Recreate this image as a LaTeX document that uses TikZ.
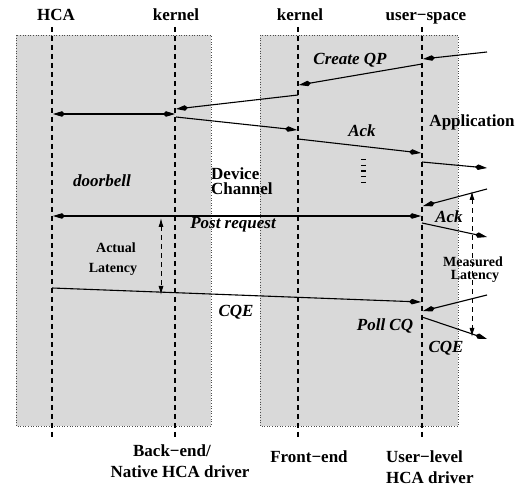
\documentclass[tikz,border=0pt]{standalone}
\usepackage{fontspec}
\setmainfont{Liberation Serif}
\usetikzlibrary{arrows.meta}
\begin{document}
\begin{tikzpicture}[x=1pt,y=-1pt,
  big/.style={font=\fontsize{17}{18}\selectfont\bfseries, inner sep=0pt, anchor=base},
  bigit/.style={font=\fontsize{17}{18}\selectfont\bfseries\itshape, inner sep=0pt, anchor=base},
  small/.style={font=\fontsize{14}{15}\selectfont\bfseries, inner sep=0pt, anchor=base},
  region/.style={fill=black!15, draw=black!70, dotted, line width=0.6pt},
  lifeline/.style={dashed, line width=1.2pt, dash pattern=on 5pt off 4pt},
  msg/.style={line width=1.1pt, -{Kite[length=12pt,width=5.5pt]}},
  dmsg/.style={line width=1.1pt, {Kite[length=12pt,width=5.5pt]}-{Kite[length=12pt,width=5.5pt]}},
  lat/.style={line width=1pt, dash pattern=on 5pt off 4pt, {Latex[length=9pt,width=5pt]}-{Latex[length=9pt,width=5pt]}}]
\useasboundingbox (0,0) rectangle (520,489);
% regions
\path[region] (16,35) rectangle (211,426);
\path[region] (260,35) rectangle (458,426);
% lifelines
\coordinate (hcaT) at (52,27);   \coordinate (hcaB) at (52,438);
\coordinate (klT) at (175,27);   \coordinate (klB) at (175,438);
\coordinate (krT) at (298,27);   \coordinate (krB) at (298,438);
\coordinate (usT) at (422,27);   \coordinate (usB) at (422,438);
\draw[lifeline] (hcaT) -- (hcaB);
\draw[lifeline] (klT) -- (klB);
\draw[lifeline] (krT) -- (krB);
\draw[lifeline] (usT) -- (usB);
% headers
\node[big] (hHCA) at (56,21) {HCA};
\node[big] (hKL) at (176,21) {kernel};
\node[big] (hKR) at (300,21) {kernel};
\node[big] (hUS) at (426,21) {user−space};
% bottom labels
\node[big] (bBE) at (172,456) {Back−end/};
\node[big] (bNat) at (180,477) {Native HCA driver};
\node[big] (bFE) at (309,462) {Front−end};
\node[big, anchor=base west] (bUL) at (386,462) {User−level};
\node[big, anchor=base west] (bHD) at (386,483) {HCA driver};
% message end points
\coordinate (m1a) at (487,52);  \coordinate (m1b) at (423,59);
\coordinate (m2a) at (422,64);  \coordinate (m2b) at (299,85);
\coordinate (m3a) at (298,95);  \coordinate (m3b) at (176,109);
\coordinate (m4a) at (53,114);  \coordinate (m4b) at (175,114);
\coordinate (m5a) at (176,117); \coordinate (m5b) at (297,130);
\coordinate (m6a) at (298,139); \coordinate (m6b) at (421,153);
\coordinate (m7a) at (422,162); \coordinate (m7b) at (487,168);
\coordinate (m8a) at (487,189); \coordinate (m8b) at (423,206);
\coordinate (m9a) at (53,216);  \coordinate (m9b) at (421,216);
\coordinate (m10a) at (422,223); \coordinate (m10b) at (487,237);
\coordinate (m11a) at (52,288); \coordinate (m11b) at (421,302);
\coordinate (m12a) at (487,295); \coordinate (m12b) at (423,311);
\coordinate (m13a) at (422,317); \coordinate (m13b) at (487,339);
\draw[msg] (m1a) -- (m1b);
\draw[msg] (m2a) -- (m2b);
\draw[msg] (m3a) -- (m3b);
\draw[dmsg] (m4a) -- (m4b);
\draw[msg] (m5a) -- (m5b);
\draw[msg] (m6a) -- (m6b);
\draw[msg] (m7a) -- (m7b);
\draw[msg] (m8a) -- (m8b);
\draw[dmsg] (m9a) -- (m9b);
\draw[msg] (m10a) -- (m10b);
\draw[msg] (m11a) -- (m11b);
\draw[msg] (m12a) -- (m12b);
\draw[msg] (m13a) -- (m13b);
% latency markers
\coordinate (alT) at (161,218); \coordinate (alB) at (161,295);
\coordinate (mlT) at (472,191); \coordinate (mlB) at (472,337);
\draw[lat] (alT) -- (alB);
\draw[lat] (mlT) -- (mlB);
% continuation ticks
\coordinate (dtT) at (363.5,159); \coordinate (dtB) at (363.5,185);
\draw[line width=5pt, dash pattern=on 1.4pt off 4.3pt] (dtT) -- (dtB);
% labels
\node[bigit] (lCQP) at (350,65) {Create QP};
\node[bigit] (lAck1) at (362,137) {Ack};
\node[big] (lApp) at (472,127) {Application};
\node[bigit] (lDoor) at (102,187) {doorbell};
\node[big, anchor=base west, align=left, font=\fontsize{17}{15}\selectfont\bfseries] (lDev) at (211,195) {Device\\Channel};
\node[bigit] (lPost) at (233,229) {Post request};
\node[bigit] (lAck2) at (449,223) {Ack};
\node[small] (lAct) at (116,253) {Actual};
\node[small] (lLat1) at (113,273) {Latency};
\node[small] (lMeas) at (473,267) {Measured};
\node[small] (lLat2) at (475,280) {Latency};
\node[bigit] (lCQE1) at (236,317) {CQE};
\node[bigit] (lPoll) at (385,331) {Poll CQ};
\node[bigit] (lCQE2) at (446,353) {CQE};
\end{tikzpicture}
\end{document}
